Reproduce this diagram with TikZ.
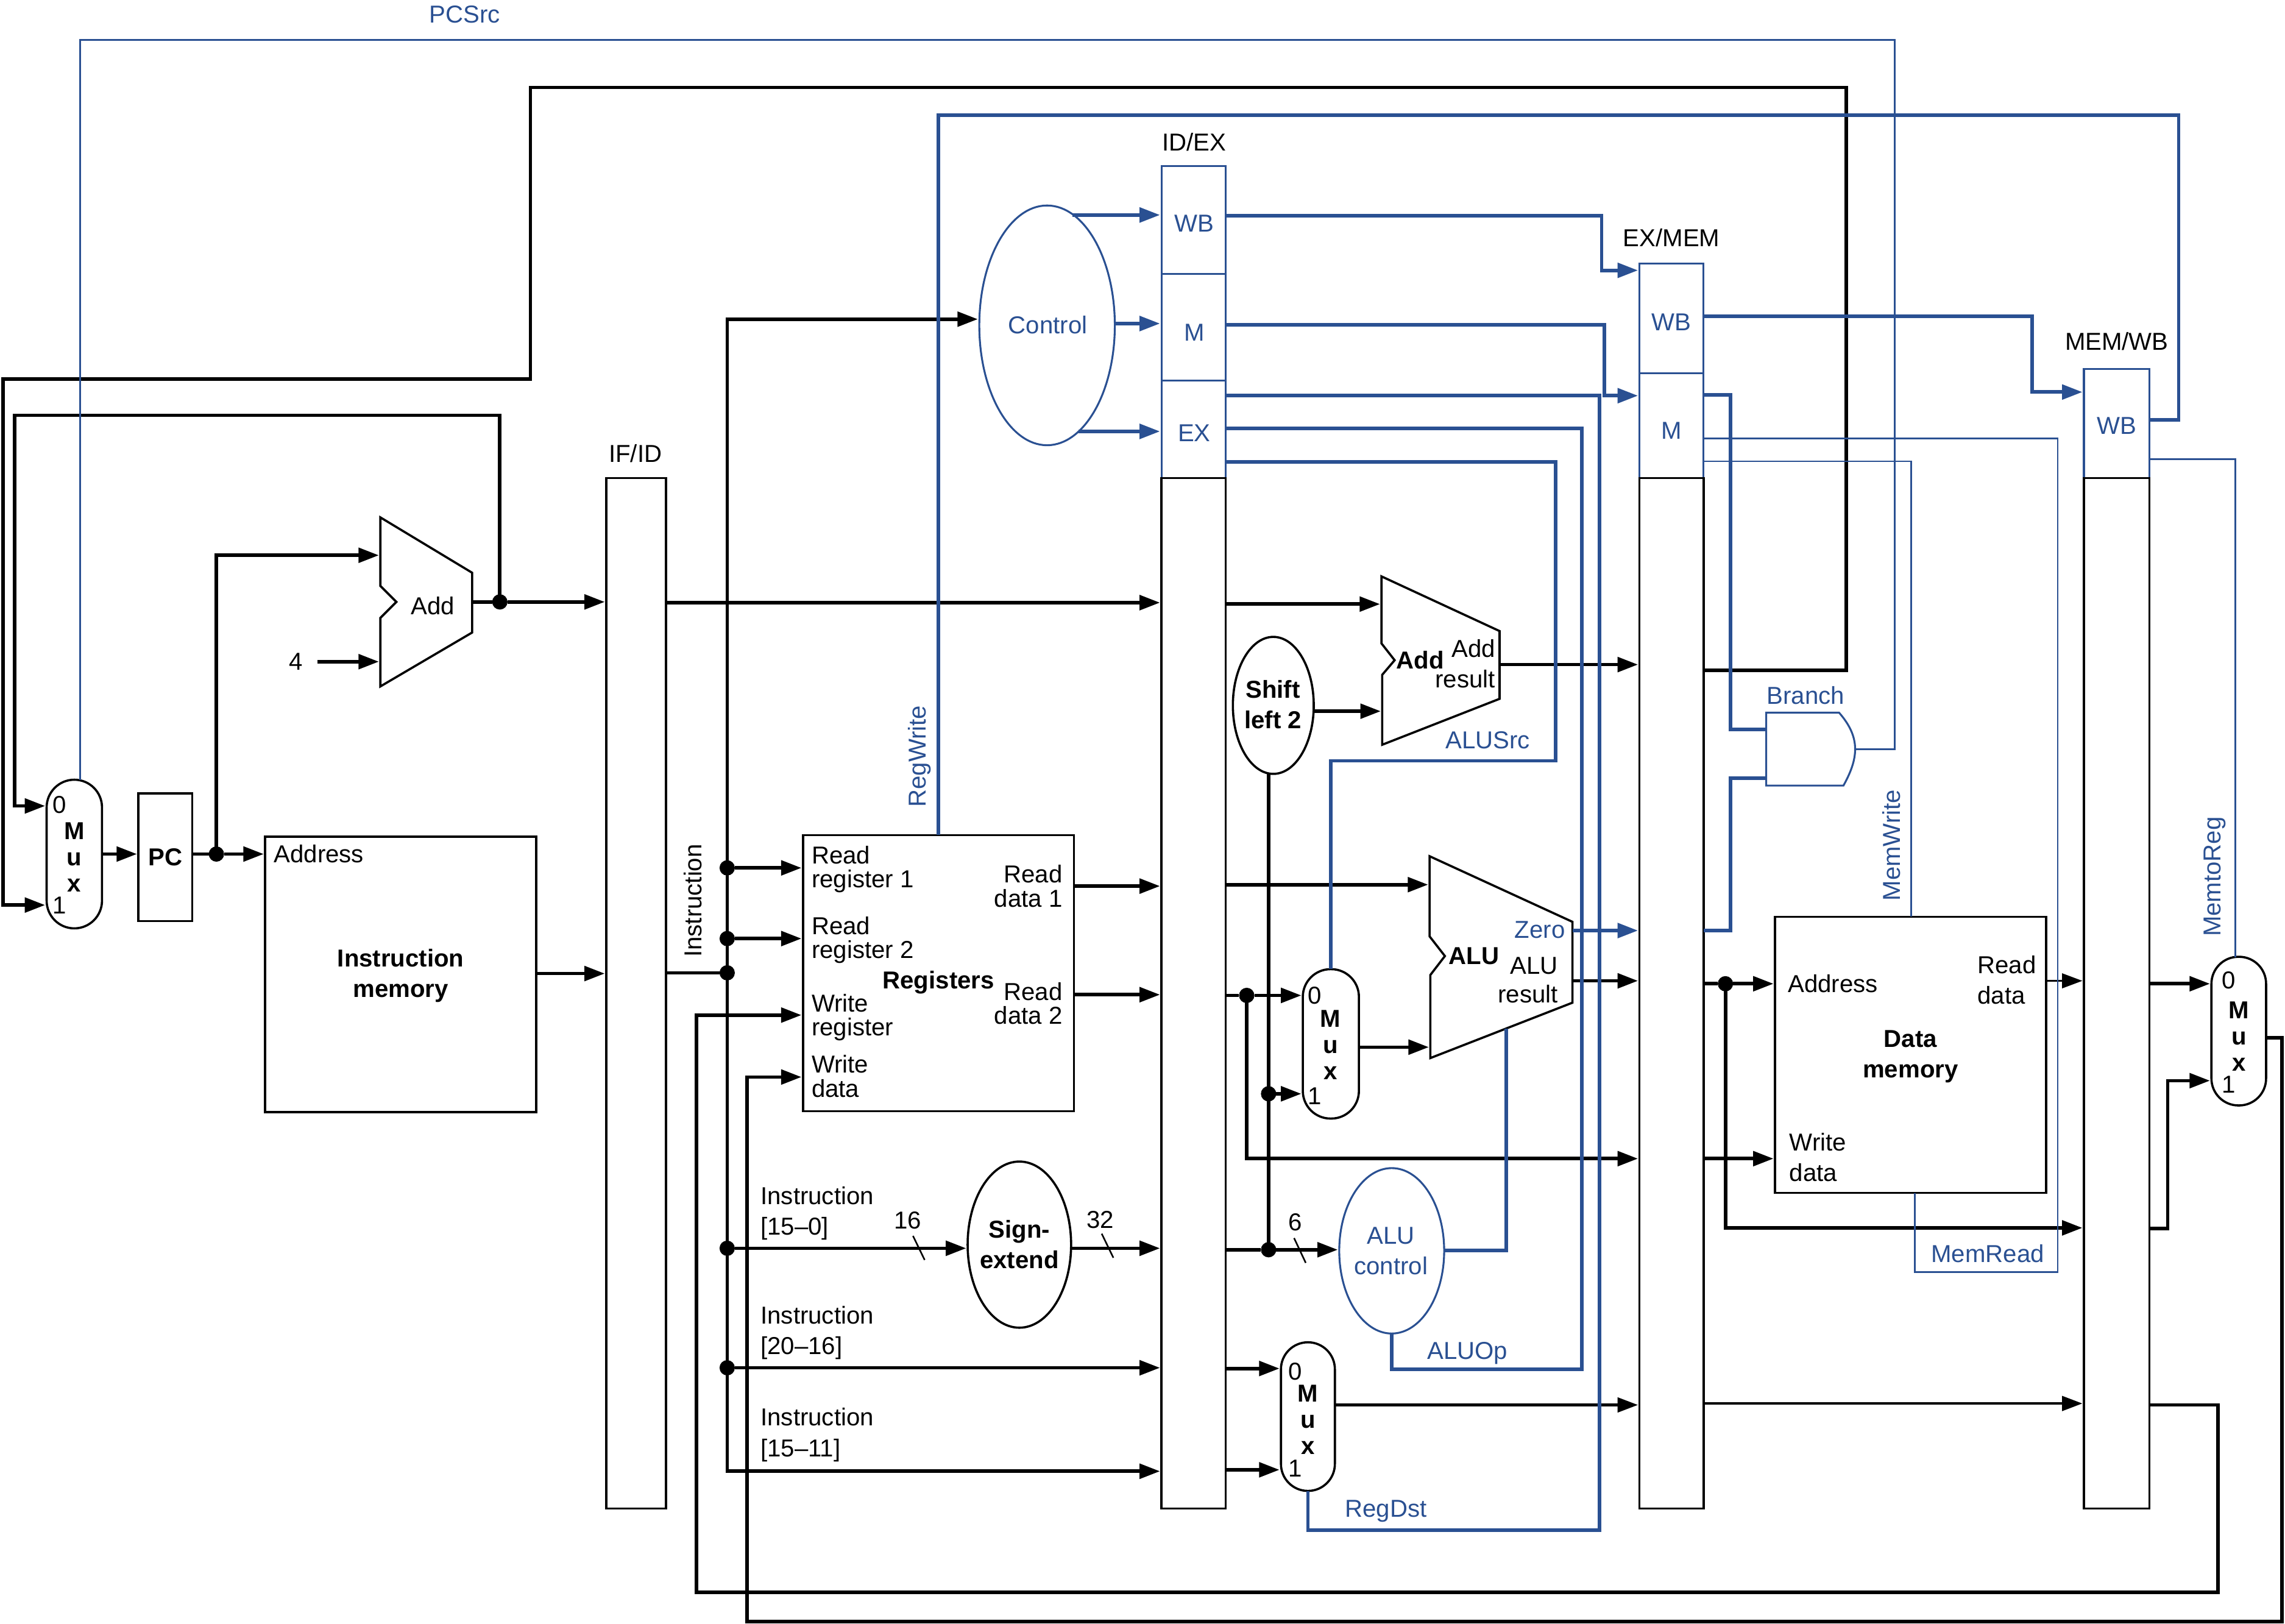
\documentclass[tikz,border=0pt]{standalone}
\usepackage{fontspec}
\setmainfont{Liberation Sans}
\usetikzlibrary{arrows.meta,shapes.geometric}
\definecolor{cblue}{HTML}{2A5092}
\newcommand{\blk}[6]{\node[#1,minimum width={(#5-#3)*1pt},minimum height={(#6-#4)*1pt}] (#2) at ({(#3+#5)/2},{(#4+#6)/2}) {};}
\tikzset{
  box/.style={draw=black,line width=1.5pt,inner sep=0pt,outer sep=0pt},
  cbox/.style={draw=cblue,line width=1.3pt,inner sep=0pt,outer sep=0pt},
  oval/.style={box,ellipse},
  coval/.style={cbox,ellipse},
  muxbox/.style={box,rounded corners=#1},
  wire/.style={draw=black,line width=2.4pt},
  wirem/.style={draw=black,line width=1.9pt},
  wiret/.style={draw=black,line width=1.5pt},
  cwire/.style={draw=cblue,line width=2.4pt},
  cthin/.style={draw=cblue,line width=1.2pt},
  tick/.style={draw=black,line width=1.1pt},
  arw/.style={-{Triangle[length=14pt,width=10pt]},shorten >=1pt},
  dot/.style={circle,fill=black,inner sep=0pt,outer sep=0pt,minimum size=10.5pt},
  lab/.style={inner sep=0pt,outer sep=0pt,font=\fontsize{16.8}{21}\selectfont},
  tight/.style={lab,font=\fontsize{16.8}{16.4}\selectfont},
  blab/.style={inner sep=0pt,outer sep=0pt,align=center,font=\fontsize{16.8}{21}\bfseries\selectfont},
  mlab/.style={inner sep=0pt,outer sep=0pt,align=center,font=\fontsize{16.8}{18}\bfseries\selectfont},
  clab/.style={lab,text=cblue},
}
\begin{document}
\begin{tikzpicture}[x=1pt,y=-1pt]
\useasboundingbox (0,0) rectangle (1568,1114);

% ---- pipeline registers
\blk{cbox}{idexwb}{797}{114}{841}{188}
\blk{cbox}{idexm}{797}{188}{841}{261}
\blk{cbox}{idexex}{797}{261}{841}{328}
\blk{cbox}{exmemwb}{1125}{181}{1169}{256}
\blk{cbox}{exmemm}{1125}{256}{1169}{328}
\blk{cbox}{memwbwb}{1430}{253}{1475}{328}
\blk{box}{ifid}{416}{328}{457}{1035}
\blk{box}{idex}{797}{328}{841}{1035}
\blk{box}{exmem}{1125}{328}{1169}{1035}
\blk{box}{memwb}{1430}{328}{1475}{1035}
\node[lab] (ifidl) at (436,311) {IF/ID};
\node[lab] (idexl) at (819.5,97.5) {ID/EX};
\node[lab] (exmeml) at (1147,163) {EX/MEM};
\node[lab] (memwbl) at (1452.5,234) {MEM/WB};
\node[clab] (tw1) at (819.5,153.5) {WB};
\node[clab] (tm1) at (819.5,228) {M};
\node[clab] (te1) at (819.5,297) {EX};
\node[clab] (tw2) at (1147,221) {WB};
\node[clab] (tm2) at (1147,295.5) {M};
\node[clab] (tw3) at (1452.5,292) {WB};

% ---- blocks
\blk{muxbox=19pt}{mux1}{32}{535}{70}{637}
\blk{box}{pc}{95}{544.5}{132}{632}
\blk{box}{imem}{182}{574}{368}{763}
\blk{box}{regs}{551}{573}{737}{762.5}
\blk{box}{dmem}{1218}{629}{1404}{818.5}
\blk{muxbox=19pt}{mux2}{894}{665}{932.5}{767.5}
\blk{muxbox=18.5pt}{mux3}{879}{921}{916}{1023}
\blk{muxbox=18.5pt}{mux4}{1517.5}{656.5}{1555}{758.5}
\blk{oval}{sext}{664}{797}{735}{911}
\blk{oval}{shift}{846}{437}{901.5}{531}
\blk{coval}{ctrl}{672}{141}{765}{305.5}
\blk{coval}{aluc}{919}{801.5}{991}{915}

% adders, ALU, AND gate
\draw[box] (261,355) -- (324,393) -- (324,434) -- (261,471) -- (261,424) -- (272,413) -- (261,402) -- cycle;
\draw[box] (948,395.5) -- (1029,433) -- (1029,479.5) -- (948.5,511) -- (948.5,463) -- (957,453) -- (948,441.5) -- cycle;
\draw[box] (981,587.5) -- (1079,632.5) -- (1079,688) -- (981.5,726) -- (981.5,669) -- (991.5,656) -- (981,642.5) -- cycle;
\draw[cbox] (1212,489) -- (1262,489) .. controls (1269,497) and (1273,505) .. (1273,514) .. controls (1273,522) and (1270,530) .. (1265,539) -- (1212,539) -- cycle;

% ports on the drawn shapes
\coordinate (add1a) at (261,381);
\coordinate (add1b) at (261,454);
\coordinate (add1o) at (324,413);
\coordinate (add2a) at (948,414.5);
\coordinate (add2b) at (948.5,488);
\coordinate (add2o) at (1029,456);
\coordinate (alua) at (981,607);
\coordinate (alub) at (981.5,718.5);
\coordinate (aluz) at (1079,638.5);
\coordinate (alur) at (1079,673);
\coordinate (aluc2) at (1033.5,706);
\coordinate (anda) at (1212,500.5);
\coordinate (andb) at (1212,534);
\coordinate (ando) at (1273,514);
\coordinate (ctrlw) at (736,147.5);
\coordinate (ctrlm) at (765,222);
\coordinate (ctrle) at (740,296);

% junctions
\node[dot] (jpc) at (148.5,586) {};
\node[dot] (jadd) at (343,413) {};
\node[dot] (jr1) at (499,595.5) {};
\node[dot] (jr2) at (499,644) {};
\node[dot] (jinst) at (499,667.5) {};
\node[dot] (jse) at (499,856.5) {};
\node[dot] (jrt) at (499,938.5) {};
\node[dot] (jrd2) at (855.5,683) {};
\node[dot] (jimm) at (870.5,750.5) {};
\node[dot] (jfn) at (870.5,857.5) {};
\node[dot] (jaddr) at (1184,675) {};

% ---- black wires
\draw[wire,arw] (mux1.east |- 0,586) -- (pc.west |- 0,586);
\draw[wire] (pc.east |- jpc) -- (jpc);
\draw[wire,arw] (jpc) -- (imem.west |- jpc);
\draw[wire,arw] (jpc.center) |- (add1a);
\node[lab] (four) at (203,454) {4};
\draw[wire,arw,shorten <=10pt] (four.east) -- (add1b);
\draw[wire] (add1o) -- (jadd);
\draw[wire,arw] (jadd) -- (ifid.west |- jadd);
\draw[wire,arw] (jadd.center) |- (10,285) |- (mux1.west |- 0,553);
\draw[wire,arw] (exmem.east |- 0,460) -| (1267,60) -| (364,260) -| (2,621) -- (mux1.west |- 0,621);
\draw[wire,arw] (imem.east |- 0,668) -- (ifid.west |- 0,668);
\draw[wire,arw] (ifid.east |- 0,413.5) -- (idex.west |- 0,413.5);
\draw[wire] (ifid.east |- jinst) -- (jinst);
\draw[wire,arw] (jinst.center) |- (ctrl.west |- 0,219);
\draw[wire,arw] (jinst.center) |- (idex.west |- 0,1009.5);
\draw[wire,arw] (jr1) -- (regs.west |- jr1);
\draw[wire,arw] (jr2) -- (regs.west |- jr2);
\draw[wire,arw] (jse) -- (sext.west |- jse);
\draw[wire,arw] (jrt) -- (idex.west |- jrt);
\draw[wire,arw] (sext.east |- 0,856.5) -- (idex.west |- 0,856.5);
\draw[wire,arw] (regs.east |- 0,608) -- (idex.west |- 0,608);
\draw[wire,arw] (regs.east |- 0,682.5) -- (idex.west |- 0,682.5);
\draw[wire,arw] (idex.east |- 0,414.5) -- (add2a);
\draw[wire,arw] (shift.east |- add2b) -- (add2b);
\draw[wire,arw] (add2o) -- (exmem.west |- add2o);
\draw[wire,arw] (idex.east |- alua) -- (alua);
\draw[wire] (idex.east |- jrd2) -- (jrd2);
\draw[wire,arw] (jrd2) -- (mux2.west |- jrd2);
\draw[wire,arw] (jrd2.center) |- (exmem.west |- 0,795);
\draw[wire] (shift.south -| jfn) -- (jfn.center);
\draw[wire,arw] (jimm) -- (mux2.west |- jimm);
\draw[wire,arw] (mux2.east |- alub) -- (alub);
\draw[wire] (idex.east |- jfn) -- (jfn);
\draw[wire,arw] (jfn) -- (aluc.west |- jfn);
\draw[wire,arw] (idex.east |- 0,939) -- (mux3.west |- 0,939);
\draw[wire,arw] (idex.east |- 0,1008.5) -- (mux3.west |- 0,1008.5);
\draw[wirem,arw] (mux3.east |- 0,964) -- (exmem.west |- 0,964);
\draw[wirem,arw] (exmem.east |- 0,963) -- (memwb.west |- 0,963);
\draw[wire,arw] (alur) -- (exmem.west |- alur);
\draw[wire] (exmem.east |- jaddr) -- (jaddr);
\draw[wire,arw] (jaddr) -- (dmem.west |- jaddr);
\draw[wire,arw] (exmem.east |- 0,795) -- (dmem.west |- 0,795);
\draw[wire,arw] (jaddr.center) |- (memwb.west |- 0,842.5);
\draw[wiret,arw] (dmem.east |- 0,673) -- (memwb.west |- 0,673);
\draw[wire,arw] (memwb.east |- 0,675) -- (mux4.west |- 0,675);
\draw[wire,arw] (memwb.east |- 0,843) -| (1487.5,741.5) -- (mux4.west |- 0,741.5);
\draw[wire,arw] (memwb.east |- 0,964) -| (1522,1092.5) -| (478,696.5) -- (regs.west |- 0,696.5);
\draw[wire,arw] (mux4.east |- 0,712) -| (1566,1112.5) -| (512.5,739) -- (regs.west |- 0,739);

% ---- control wires
\draw[cwire,arw] (ctrlw) -- (idexwb.west |- ctrlw);
\draw[cwire,arw] (ctrlm) -- (idexm.west |- ctrlm);
\draw[cwire,arw] (ctrle) -- (idexex.west |- ctrle);
\draw[cwire,arw] (idexwb.east |- 0,148) -| (1099,185.5) -- (exmemwb.west |- 0,185.5);
\draw[cwire,arw] (idexm.east |- 0,223) -| (1101,271.5) -- (exmemm.west |- 0,271.5);
\draw[cwire] (idexex.east |- 0,271.5) -| (1097.5,1050) -| (mux3.south);
\draw[cwire] (idexex.east |- 0,294) -| (1085.5,939.5) -| (aluc.south);
\draw[cwire] (idexex.east |- 0,317) -| (1067.5,522) -| (mux2.north);
\draw[cwire] (aluc.east |- 0,858) -| (aluc2);
\draw[cwire,arw] (aluz) -- (exmem.west |- aluz);
\draw[cwire] (exmem.east |- aluz) -| (1187.5,534) -- (andb);
\draw[cwire] (exmemm.east |- 0,271) -| (1187.5,500.5) -- (anda);
\draw[cwire,arw] (exmemwb.east |- 0,217) -| (1394.5,269) -- (memwbwb.west |- 0,269);
\draw[cwire] (memwbwb.east |- 0,288) -| (1495,79) -| (regs.north);
\draw[cthin] (ando) -| (1300,27.5) -| (mux1.north -| 55,0);
\draw[cthin] (exmemm.east |- 0,301) -| (1412,873) -| (1314,818.5);
\draw[cthin] (exmemm.east |- 0,316.5) -| (1311.5,629);
\draw[cthin] (memwbwb.east |- 0,315) -| (1534,657);

% ---- texts
\node[lab] (tadd1) at (297,415.5) {Add};
\node[mlab] (m1) at (51,588) {M\\u\\x};
\node[lab] (m1a) at (41,552) {0};
\node[lab] (m1b) at (41,621) {1};
\node[blab] (tpc) at (113.5,588) {PC};
\node[lab,anchor=west] (taddr) at (188,586) {Address};
\node[blab] (timem) at (275,669.5) {Instruction\\memory};
\node[lab,rotate=90] (tinst) at (475.5,618) {Instruction};
\node[tight,anchor=west,align=left] (rr1) at (557,596.5) {Read\\register 1};
\node[tight,anchor=west,align=left] (rr2) at (557,645) {Read\\register 2};
\node[tight,anchor=west,align=left] (wr) at (557,698) {Write\\register};
\node[tight,anchor=west,align=left] (wd) at (557,738.5) {Write\\data};
\node[tight,anchor=east,align=right] (rd1) at (729,608) {Read\\data 1};
\node[tight,anchor=east,align=right] (rd2) at (729,688.5) {Read\\data 2};
\node[blab] (tregs) at (644,674) {Registers};
\node[lab,anchor=west,align=left] (i150) at (522,832.5) {Instruction\\{[15–0]}};
\node[lab,anchor=west,align=left] (i2016) at (522,914.5) {Instruction\\{[20–16]}};
\node[lab,anchor=west,align=left] (i1511) at (522,984.5) {Instruction\\{[15–11]}};
\node[lab] (t16) at (623,837.5) {16};
\node[lab] (t32) at (755,837) {32};
\node[lab] (t6) at (889,838.5) {6};
\draw[tick] (626.5,848) -- (634.5,864.5);
\draw[tick] (756,846.5) -- (764,863);
\draw[tick] (888,849.5) -- (896,866.5);
\node[blab] (tsext) at (699.5,854) {Sign-\\extend};
\node[blab] (tshift) at (873.5,483.5) {Shift\\left 2};
\node[clab] (tctrl) at (719,223) {Control};
\node[clab,align=center] (taluc) at (954.5,858.5) {ALU\\control};
\node[blab] (tadd2) at (974.5,453) {Add};
\node[lab,anchor=east,align=right] (tadd2r) at (1026,455.5) {Add\\result};
\node[blab] (talu) at (1011.5,656) {ALU};
\node[lab,anchor=east,align=right,font=\fontsize{16.8}{19.4}\selectfont] (talur) at (1069,672.5) {ALU\\result};
\node[clab,anchor=east] (tzero) at (1074,638) {Zero};
\node[mlab] (m2) at (913,717) {M\\u\\x};
\node[lab] (m2a) at (902,683) {0};
\node[lab] (m2b) at (902,752) {1};
\node[mlab] (m3) at (897.5,974) {M\\u\\x};
\node[lab] (m3a) at (889,941) {0};
\node[lab] (m3b) at (889,1007.5) {1};
\node[mlab] (m4) at (1536.5,711) {M\\u\\x};
\node[lab] (m4a) at (1529.5,672.5) {0};
\node[lab] (m4b) at (1529.5,744) {1};
\node[lab,anchor=west] (taddr2) at (1227,675) {Address};
\node[lab,anchor=west,align=left] (trd) at (1357,672.5) {Read\\data};
\node[lab,anchor=west,align=left] (twd) at (1228,794) {Write\\data};
\node[blab] (tdmem) at (1311,725) {Data\\memory};
\node[clab] (tpcsrc) at (319,10) {PCSrc};
\node[clab,rotate=90] (tregw) at (631,519) {RegWrite};
\node[clab] (talusrc) at (1021,508) {ALUSrc};
\node[clab] (taluop) at (1007,928.5) {ALUOp};
\node[clab] (tregdst) at (951,1037) {RegDst};
\node[clab] (tbranch) at (1239,477) {Branch};
\node[clab,rotate=90] (tmemw) at (1298,580) {MemWrite};
\node[clab] (tmemr) at (1364,860) {MemRead};
\node[clab,rotate=90] (tmemreg) at (1520,601.5) {MemtoReg};
\end{tikzpicture}
\end{document}
